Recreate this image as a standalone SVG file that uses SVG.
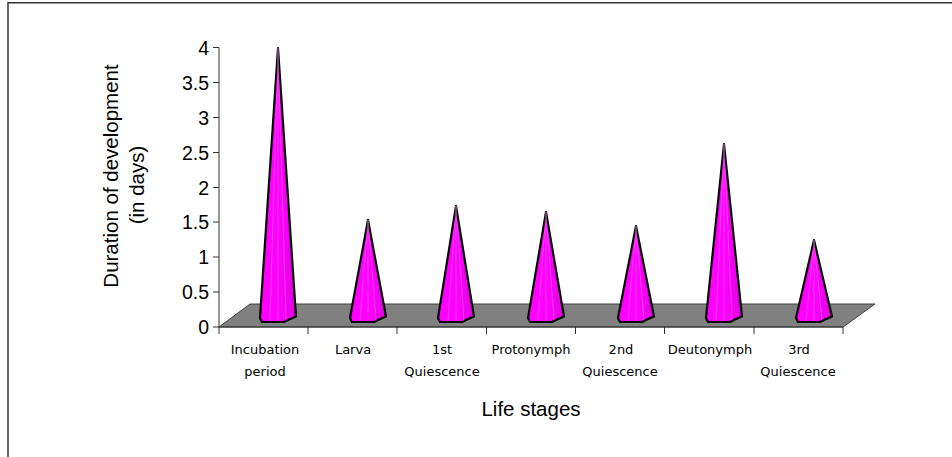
<svg xmlns="http://www.w3.org/2000/svg" width="952" height="457" viewBox="0 0 952 457">
<defs>
<linearGradient id="coneFill" x1="0" y1="0" x2="1" y2="0">
<stop offset="0" stop-color="#FF00FF"/>
<stop offset="0.55" stop-color="#FF00FF"/>
<stop offset="1" stop-color="#DE00DE"/>
</linearGradient>
</defs>
<style>
.frame{fill:none;stroke:#333;stroke-width:1.5}
.floor{fill:#808080;stroke:#404040;stroke-width:1}
.axis{stroke:#333;stroke-width:1;fill:none}
.cone{fill:url(#coneFill);stroke:#000;stroke-width:2.2;stroke-linejoin:round}
.stripe{stroke:#FF9CFF;stroke-width:0.7;opacity:0.55}
.tick{font-family:"Liberation Sans",Arial,sans-serif;font-size:19.5px;fill:#000;text-anchor:end}
.ytitle{font-family:"Liberation Sans",Arial,sans-serif;font-size:20.5px;fill:#000;text-anchor:middle}
.cat{font-family:"DejaVu Sans",sans-serif;font-size:13px;fill:#000;text-anchor:middle}
.xtitle{font-family:"Liberation Sans",Arial,sans-serif;font-size:20.5px;fill:#000;text-anchor:middle}
</style>
<rect width="952" height="457" fill="#fff"/>
<path class="frame" d="M8,470 L8,2.75 L960,2.75"/>

<g id="floor">
<polygon class="floor" points="219,327 250,304 875,304 843,327"/>
</g>

<g id="axes">
<line class="axis" x1="219" y1="47.5" x2="219" y2="327"/>
<line class="axis" x1="219" y1="327" x2="843" y2="327"/>
<path class="axis" d="M213,47.5H219M213,82.5H219M213,117.5H219M213,152.5H219M213,187.5H219M213,222H219M213,257H219M213,292H219M213,327H219"/>
<path class="axis" d="M219,327V334M308,327V334M397,327V334M486.5,327V334M575.5,327V334M664.5,327V334M754,327V334M843,327V334"/>
<text class="tick" x="209" y="54.5">4</text>
<text class="tick" x="209" y="89.5">3.5</text>
<text class="tick" x="209" y="124.5">3</text>
<text class="tick" x="209" y="159.5">2.5</text>
<text class="tick" x="209" y="194.5">2</text>
<text class="tick" x="209" y="229">1.5</text>
<text class="tick" x="209" y="264">1</text>
<text class="tick" x="209" y="299">0.5</text>
<text class="tick" x="209" y="334">0</text>
</g>

<g id="y-title">
<text class="ytitle" transform="translate(118,176) rotate(-90)">Duration of development</text>
<text class="ytitle" transform="translate(144,185) rotate(-90)">(in days)</text>
</g>

<g id="cone-incubation">
<path class="cone" d="M278,48 L260,318 L262,322 L284,322 L289,319.5 L296,316.5 Z"/>
<path class="stripe" d="M278,48 L270,321 M278,48 L278,321 M278,48 L286,320"/>
</g>
<g id="cone-larva">
<path class="cone" d="M368,220 L350,318 L352,322 L374,322 L379,319.5 L386,316.5 Z"/>
<path class="stripe" d="M368,220 L360,321 M368,220 L368,321 M368,220 L376,320"/>
</g>
<g id="cone-1st-quiescence">
<path class="cone" d="M456,206 L438,318 L440,322 L462,322 L467,319.5 L474,316.5 Z"/>
<path class="stripe" d="M456,206 L448,321 M456,206 L456,321 M456,206 L464,320"/>
</g>
<g id="cone-protonymph">
<path class="cone" d="M546,212 L528,318 L530,322 L552,322 L557,319.5 L564,316.5 Z"/>
<path class="stripe" d="M546,212 L538,321 M546,212 L546,321 M546,212 L554,320"/>
</g>
<g id="cone-2nd-quiescence">
<path class="cone" d="M636,226 L618,318 L620,322 L642,322 L647,319.5 L654,316.5 Z"/>
<path class="stripe" d="M636,226 L628,321 M636,226 L636,321 M636,226 L644,320"/>
</g>
<g id="cone-deutonymph">
<path class="cone" d="M724,144 L706,318 L708,322 L730,322 L735,319.5 L742,316.5 Z"/>
<path class="stripe" d="M724,144 L716,321 M724,144 L724,321 M724,144 L732,320"/>
</g>
<g id="cone-3rd-quiescence">
<path class="cone" d="M814,240 L796,318 L798,322 L820,322 L825,319.5 L832,316.5 Z"/>
<path class="stripe" d="M814,240 L806,321 M814,240 L814,321 M814,240 L822,320"/>
</g>

<g id="x-labels">
<text class="cat" x="265" y="354">Incubation</text>
<text class="cat" x="265" y="376">period</text>
<text class="cat" x="353" y="354">Larva</text>
<text class="cat" x="442" y="354">1st</text>
<text class="cat" x="442" y="376">Quiescence</text>
<text class="cat" x="531" y="354">Protonymph</text>
<text class="cat" x="621" y="354">2nd</text>
<text class="cat" x="620" y="376">Quiescence</text>
<text class="cat" x="710" y="354">Deutonymph</text>
<text class="cat" x="799" y="354">3rd</text>
<text class="cat" x="798" y="376">Quiescence</text>
</g>

<g id="x-title">
<text class="xtitle" x="531" y="416">Life stages</text>
</g>
</svg>
